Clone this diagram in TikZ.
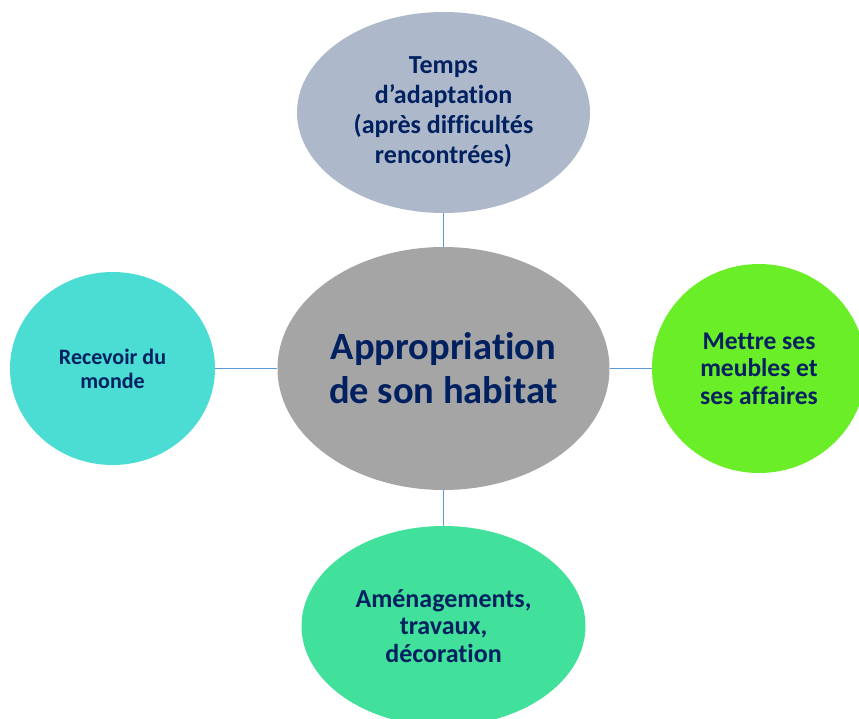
\documentclass[tikz,border=0pt]{standalone}
\usepackage{fontspec}
\setmainfont{Carlito}[Ligatures={NoCommon}]
\usetikzlibrary{shapes.geometric}
\definecolor{txtnavy}{HTML}{002060}
\definecolor{topfill}{HTML}{ADB9CA}
\definecolor{midfill}{HTML}{A5A5A5}
\definecolor{leftfill}{HTML}{4BDCD3}
\definecolor{rightfill}{HTML}{6AEE28}
\definecolor{botfill}{HTML}{42E19B}
\definecolor{connblue}{HTML}{5B9BD5}
\tikzset{
  bubble/.style={ellipse, draw=none, inner sep=0pt, align=center, text=txtnavy},
  conn/.style={draw=connblue, line width=1.5pt}
}
\begin{document}
\begin{tikzpicture}[x=1pt,y=-1pt]
\useasboundingbox (0,0) rectangle (859,718);
\clip (0,0) rectangle (859,718);
\node[bubble, fill=topfill, minimum width=293pt, minimum height=201pt,
      font=\fontsize{26}{30}\selectfont\bfseries] (top) at (443.5,112.5)
  {Temps\\d’adaptation\\(après difficultés\\rencontrées)};
\node[bubble, fill=midfill, minimum width=332pt, minimum height=243pt,
      font=\fontsize{38.5}{44}\selectfont\bfseries] (mid) at (443.5,368.5)
  {Appropriation\\de son habitat};
\node[bubble, fill=leftfill, minimum width=205pt, minimum height=193pt,
      font=\fontsize{22}{24}\selectfont\bfseries] (left) at (112.5,368.5)
  {Recevoir du\\monde};
\node[bubble, fill=rightfill, minimum width=214pt, minimum height=209pt,
      font=\fontsize{25.5}{27.5}\selectfont\bfseries] (right) at (759,368.5)
  {Mettre ses\\meubles et\\ses affaires};
\node[bubble, fill=botfill, minimum width=284pt, minimum height=200pt,
      font=\fontsize{26}{27.5}\selectfont\bfseries] (bot) at (443.5,626)
  {Aménagements,\\travaux,\\décoration};
\draw[conn] (top.south) -- (mid.north);
\draw[conn] (left.east) -- (mid.west);
\draw[conn] (mid.east) -- (right.west);
\draw[conn] (mid.south) -- (bot.north);
\end{tikzpicture}
\end{document}
